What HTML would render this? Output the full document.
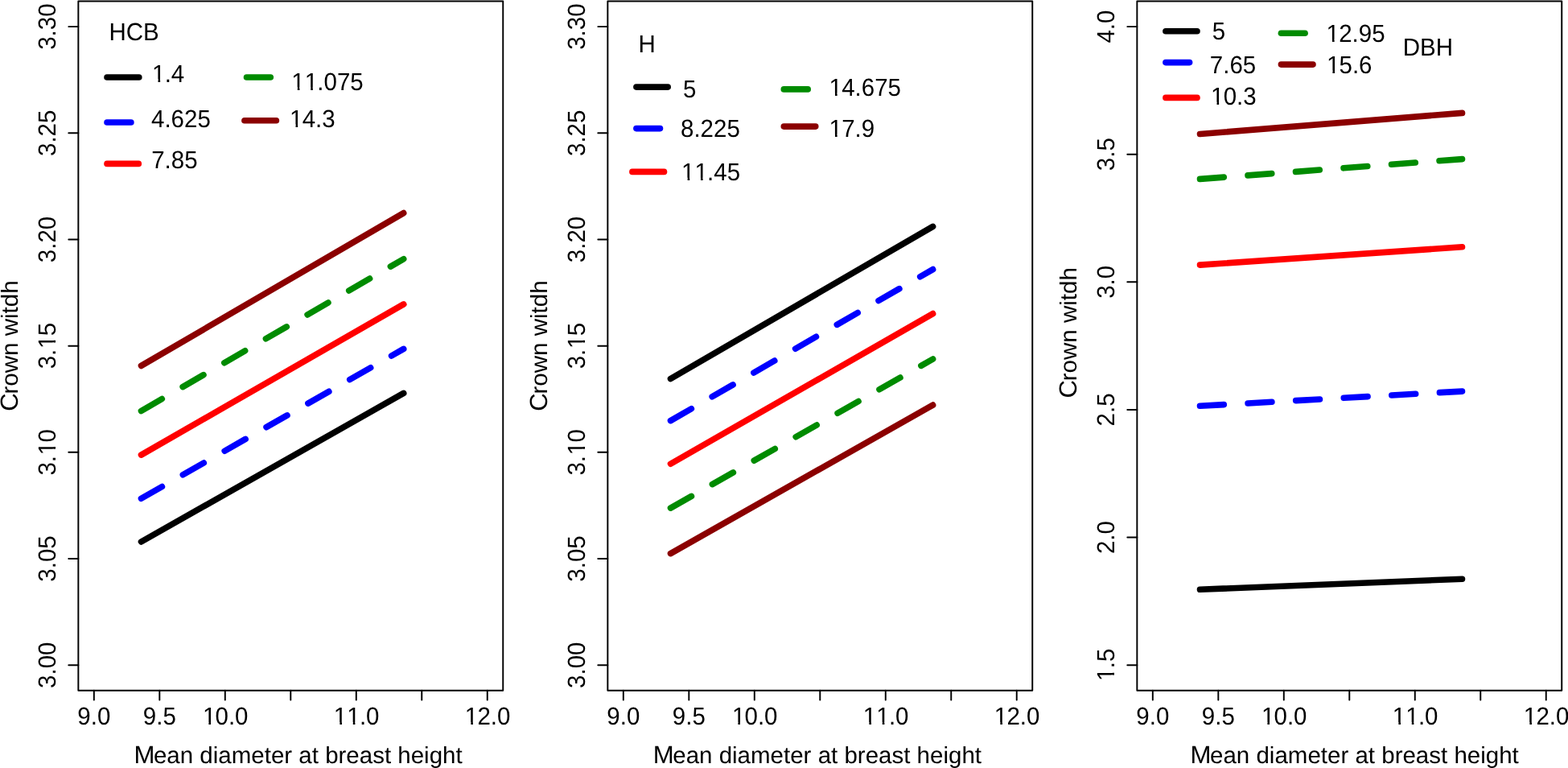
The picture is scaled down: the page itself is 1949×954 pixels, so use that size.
<!DOCTYPE html>
<html><head><meta charset="utf-8"><style>
html,body{margin:0;padding:0;background:#fff;overflow:hidden;}
svg{display:block;}
text{font-family:"Liberation Sans",Arial,Helvetica,sans-serif;font-size:29.5px;fill:#000;font-kerning:none;text-rendering:geometricPrecision;white-space:pre;}
</style></head><body>
<svg width="1949" height="954" viewBox="0 0 1949 954">
<defs><clipPath id="c0" clipPathUnits="userSpaceOnUse"><path clip-rule="evenodd" d="M-48.71,-60H48.71V20H-48.71Z M-26.46,-3.20H-20.41V4H-26.46Z M-17.78,-3.20H-12.14V4H-17.78Z"/></clipPath><clipPath id="c1" clipPathUnits="userSpaceOnUse"><path clip-rule="evenodd" d="M-48.71,-60H48.71V20H-48.71Z M-26.46,-3.20H-20.41V4H-26.46Z M-17.78,-3.20H-12.14V4H-17.78Z M-10.05,-3.20H-4.00V4H-10.05Z M-1.38,-3.20H4.26V4H-1.38Z"/></clipPath><clipPath id="c2" clipPathUnits="userSpaceOnUse"><path clip-rule="evenodd" d="M-48.71,-60H48.71V20H-48.71Z M-26.46,-3.20H-20.41V4H-26.46Z M-17.78,-3.20H-12.14V4H-17.78Z"/></clipPath><clipPath id="c3" clipPathUnits="userSpaceOnUse"><path clip-rule="evenodd" d="M-48.71,-60H48.71V20H-48.71Z M-1.86,-3.20H4.19V4H-1.86Z M6.82,-3.20H12.46V4H6.82Z"/></clipPath><clipPath id="c4" clipPathUnits="userSpaceOnUse"><path clip-rule="evenodd" d="M-48.71,-60H48.71V20H-48.71Z M-1.86,-3.20H4.19V4H-1.86Z M6.82,-3.20H12.46V4H6.82Z"/></clipPath><clipPath id="c5" clipPathUnits="userSpaceOnUse"><path clip-rule="evenodd" d="M-48.71,-60H48.71V20H-48.71Z M-26.46,-3.20H-20.41V4H-26.46Z M-17.78,-3.20H-12.14V4H-17.78Z"/></clipPath><clipPath id="c6" clipPathUnits="userSpaceOnUse"><path clip-rule="evenodd" d="M-48.71,-60H48.71V20H-48.71Z M-26.46,-3.20H-20.41V4H-26.46Z M-17.78,-3.20H-12.14V4H-17.78Z M-10.05,-3.20H-4.00V4H-10.05Z M-1.38,-3.20H4.26V4H-1.38Z"/></clipPath><clipPath id="c7" clipPathUnits="userSpaceOnUse"><path clip-rule="evenodd" d="M-48.71,-60H48.71V20H-48.71Z M-26.46,-3.20H-20.41V4H-26.46Z M-17.78,-3.20H-12.14V4H-17.78Z"/></clipPath><clipPath id="c8" clipPathUnits="userSpaceOnUse"><path clip-rule="evenodd" d="M-48.71,-60H48.71V20H-48.71Z M-1.86,-3.20H4.19V4H-1.86Z M6.82,-3.20H12.46V4H6.82Z"/></clipPath><clipPath id="c9" clipPathUnits="userSpaceOnUse"><path clip-rule="evenodd" d="M-48.71,-60H48.71V20H-48.71Z M-1.86,-3.20H4.19V4H-1.86Z M6.82,-3.20H12.46V4H6.82Z"/></clipPath><clipPath id="c10" clipPathUnits="userSpaceOnUse"><path clip-rule="evenodd" d="M-48.71,-60H48.71V20H-48.71Z M-26.46,-3.20H-20.41V4H-26.46Z M-17.78,-3.20H-12.14V4H-17.78Z"/></clipPath><clipPath id="c11" clipPathUnits="userSpaceOnUse"><path clip-rule="evenodd" d="M-48.71,-60H48.71V20H-48.71Z M-26.46,-3.20H-20.41V4H-26.46Z M-17.78,-3.20H-12.14V4H-17.78Z M-10.05,-3.20H-4.00V4H-10.05Z M-1.38,-3.20H4.26V4H-1.38Z"/></clipPath><clipPath id="c12" clipPathUnits="userSpaceOnUse"><path clip-rule="evenodd" d="M-48.71,-60H48.71V20H-48.71Z M-26.46,-3.20H-20.41V4H-26.46Z M-17.78,-3.20H-12.14V4H-17.78Z"/></clipPath><clipPath id="c13" clipPathUnits="userSpaceOnUse"><path clip-rule="evenodd" d="M-40.50,-60H40.50V20H-40.50Z M-18.26,-3.20H-12.21V4H-18.26Z M-9.58,-3.20H-3.94V4H-9.58Z"/></clipPath><clipPath id="c14" clipPathUnits="userSpaceOnUse"><path clip-rule="evenodd" d="M-20.00,-60H61.01V20H-20.00Z M2.25,-3.20H8.30V4H2.25Z M10.93,-3.20H16.57V4H10.93Z"/></clipPath><clipPath id="c15" clipPathUnits="userSpaceOnUse"><path clip-rule="evenodd" d="M-20.00,-60H110.23V20H-20.00Z M2.25,-3.20H8.30V4H2.25Z M10.93,-3.20H16.57V4H10.93Z M18.65,-3.20H24.70V4H18.65Z M27.33,-3.20H32.97V4H27.33Z"/></clipPath><clipPath id="c16" clipPathUnits="userSpaceOnUse"><path clip-rule="evenodd" d="M-20.00,-60H77.42V20H-20.00Z M2.25,-3.20H8.30V4H2.25Z M10.93,-3.20H16.57V4H10.93Z"/></clipPath><clipPath id="c17" clipPathUnits="userSpaceOnUse"><path clip-rule="evenodd" d="M-20.00,-60H93.82V20H-20.00Z M2.25,-3.20H8.30V4H2.25Z M10.93,-3.20H16.57V4H10.93Z M18.65,-3.20H24.70V4H18.65Z M27.33,-3.20H32.97V4H27.33Z"/></clipPath><clipPath id="c18" clipPathUnits="userSpaceOnUse"><path clip-rule="evenodd" d="M-20.00,-60H110.23V20H-20.00Z M2.25,-3.20H8.30V4H2.25Z M10.93,-3.20H16.57V4H10.93Z"/></clipPath><clipPath id="c19" clipPathUnits="userSpaceOnUse"><path clip-rule="evenodd" d="M-20.00,-60H77.42V20H-20.00Z M2.25,-3.20H8.30V4H2.25Z M10.93,-3.20H16.57V4H10.93Z"/></clipPath><clipPath id="c20" clipPathUnits="userSpaceOnUse"><path clip-rule="evenodd" d="M-20.00,-60H77.42V20H-20.00Z M2.25,-3.20H8.30V4H2.25Z M10.93,-3.20H16.57V4H10.93Z"/></clipPath><clipPath id="c21" clipPathUnits="userSpaceOnUse"><path clip-rule="evenodd" d="M-20.00,-60H93.82V20H-20.00Z M2.25,-3.20H8.30V4H2.25Z M10.93,-3.20H16.57V4H10.93Z"/></clipPath><clipPath id="c22" clipPathUnits="userSpaceOnUse"><path clip-rule="evenodd" d="M-20.00,-60H77.42V20H-20.00Z M2.25,-3.20H8.30V4H2.25Z M10.93,-3.20H16.57V4H10.93Z"/></clipPath></defs>
<rect width="1949" height="954" fill="#fff"/>
<rect x="97.35" y="1.45" width="527.90" height="856.35" fill="none" stroke="#000" stroke-width="1.95" stroke-linejoin="round"/>
<line x1="116.83" y1="857.80" x2="116.83" y2="869.60" stroke="#000" stroke-width="1.95" stroke-linecap="round"/>
<text transform="translate(116.83,900.40) scale(1,1.0412)" x="-20.50">9.0</text>
<line x1="198.32" y1="857.80" x2="198.32" y2="869.60" stroke="#000" stroke-width="1.95" stroke-linecap="round"/>
<text transform="translate(198.32,900.40) scale(1,1.0412)" x="-20.50">9.5</text>
<line x1="279.80" y1="857.80" x2="279.80" y2="869.60" stroke="#000" stroke-width="1.95" stroke-linecap="round"/>
<text transform="translate(279.80,900.40) scale(1,1.0412)" x="-27.91 -12.30 4.11 12.30" clip-path="url(#c0)">10.0</text>
<line x1="361.29" y1="857.80" x2="361.29" y2="869.60" stroke="#000" stroke-width="1.95" stroke-linecap="round"/>
<line x1="442.78" y1="857.80" x2="442.78" y2="869.60" stroke="#000" stroke-width="1.95" stroke-linecap="round"/>
<text transform="translate(442.78,900.40) scale(1,1.0412)" x="-27.91 -11.50 4.11 12.30" clip-path="url(#c1)">11.0</text>
<line x1="524.26" y1="857.80" x2="524.26" y2="869.60" stroke="#000" stroke-width="1.95" stroke-linecap="round"/>
<line x1="605.75" y1="857.80" x2="605.75" y2="869.60" stroke="#000" stroke-width="1.95" stroke-linecap="round"/>
<text transform="translate(605.75,900.40) scale(1,1.0412)" x="-27.91 -12.30 4.11 12.30" clip-path="url(#c2)">12.0</text>
<line x1="85.30" y1="826.20" x2="97.35" y2="826.20" stroke="#000" stroke-width="1.95" stroke-linecap="round"/>
<text transform="translate(68.85,826.20) rotate(-90) scale(1,1.0412)" x="-28.71">3.00</text>
<line x1="85.30" y1="694.02" x2="97.35" y2="694.02" stroke="#000" stroke-width="1.95" stroke-linecap="round"/>
<text transform="translate(68.85,694.02) rotate(-90) scale(1,1.0412)" x="-28.71">3.05</text>
<line x1="85.30" y1="561.83" x2="97.35" y2="561.83" stroke="#000" stroke-width="1.95" stroke-linecap="round"/>
<text transform="translate(68.85,561.83) rotate(-90) scale(1,1.0412)" x="-28.71 -12.30 -3.31 12.30" clip-path="url(#c3)">3.10</text>
<line x1="85.30" y1="429.65" x2="97.35" y2="429.65" stroke="#000" stroke-width="1.95" stroke-linecap="round"/>
<text transform="translate(68.85,429.65) rotate(-90) scale(1,1.0412)" x="-28.71 -12.30 -3.31 12.30" clip-path="url(#c4)">3.15</text>
<line x1="85.30" y1="297.47" x2="97.35" y2="297.47" stroke="#000" stroke-width="1.95" stroke-linecap="round"/>
<text transform="translate(68.85,297.47) rotate(-90) scale(1,1.0412)" x="-28.71">3.20</text>
<line x1="85.30" y1="165.28" x2="97.35" y2="165.28" stroke="#000" stroke-width="1.95" stroke-linecap="round"/>
<text transform="translate(68.85,165.28) rotate(-90) scale(1,1.0412)" x="-28.71">3.25</text>
<line x1="85.30" y1="33.10" x2="97.35" y2="33.10" stroke="#000" stroke-width="1.95" stroke-linecap="round"/>
<text transform="translate(68.85,33.10) rotate(-90) scale(1,1.0412)" x="-28.71">3.30</text>
<rect x="755.35" y="1.45" width="527.90" height="856.35" fill="none" stroke="#000" stroke-width="1.95" stroke-linejoin="round"/>
<line x1="774.83" y1="857.80" x2="774.83" y2="869.60" stroke="#000" stroke-width="1.95" stroke-linecap="round"/>
<text transform="translate(774.83,900.40) scale(1,1.0412)" x="-20.50">9.0</text>
<line x1="856.32" y1="857.80" x2="856.32" y2="869.60" stroke="#000" stroke-width="1.95" stroke-linecap="round"/>
<text transform="translate(856.32,900.40) scale(1,1.0412)" x="-20.50">9.5</text>
<line x1="937.80" y1="857.80" x2="937.80" y2="869.60" stroke="#000" stroke-width="1.95" stroke-linecap="round"/>
<text transform="translate(937.80,900.40) scale(1,1.0412)" x="-27.91 -12.30 4.11 12.30" clip-path="url(#c5)">10.0</text>
<line x1="1019.29" y1="857.80" x2="1019.29" y2="869.60" stroke="#000" stroke-width="1.95" stroke-linecap="round"/>
<line x1="1100.78" y1="857.80" x2="1100.78" y2="869.60" stroke="#000" stroke-width="1.95" stroke-linecap="round"/>
<text transform="translate(1100.78,900.40) scale(1,1.0412)" x="-27.91 -11.50 4.11 12.30" clip-path="url(#c6)">11.0</text>
<line x1="1182.26" y1="857.80" x2="1182.26" y2="869.60" stroke="#000" stroke-width="1.95" stroke-linecap="round"/>
<line x1="1263.75" y1="857.80" x2="1263.75" y2="869.60" stroke="#000" stroke-width="1.95" stroke-linecap="round"/>
<text transform="translate(1263.75,900.40) scale(1,1.0412)" x="-27.91 -12.30 4.11 12.30" clip-path="url(#c7)">12.0</text>
<line x1="743.30" y1="826.20" x2="755.35" y2="826.20" stroke="#000" stroke-width="1.95" stroke-linecap="round"/>
<text transform="translate(726.85,826.20) rotate(-90) scale(1,1.0412)" x="-28.71">3.00</text>
<line x1="743.30" y1="694.02" x2="755.35" y2="694.02" stroke="#000" stroke-width="1.95" stroke-linecap="round"/>
<text transform="translate(726.85,694.02) rotate(-90) scale(1,1.0412)" x="-28.71">3.05</text>
<line x1="743.30" y1="561.83" x2="755.35" y2="561.83" stroke="#000" stroke-width="1.95" stroke-linecap="round"/>
<text transform="translate(726.85,561.83) rotate(-90) scale(1,1.0412)" x="-28.71 -12.30 -3.31 12.30" clip-path="url(#c8)">3.10</text>
<line x1="743.30" y1="429.65" x2="755.35" y2="429.65" stroke="#000" stroke-width="1.95" stroke-linecap="round"/>
<text transform="translate(726.85,429.65) rotate(-90) scale(1,1.0412)" x="-28.71 -12.30 -3.31 12.30" clip-path="url(#c9)">3.15</text>
<line x1="743.30" y1="297.47" x2="755.35" y2="297.47" stroke="#000" stroke-width="1.95" stroke-linecap="round"/>
<text transform="translate(726.85,297.47) rotate(-90) scale(1,1.0412)" x="-28.71">3.20</text>
<line x1="743.30" y1="165.28" x2="755.35" y2="165.28" stroke="#000" stroke-width="1.95" stroke-linecap="round"/>
<text transform="translate(726.85,165.28) rotate(-90) scale(1,1.0412)" x="-28.71">3.25</text>
<line x1="743.30" y1="33.10" x2="755.35" y2="33.10" stroke="#000" stroke-width="1.95" stroke-linecap="round"/>
<text transform="translate(726.85,33.10) rotate(-90) scale(1,1.0412)" x="-28.71">3.30</text>
<rect x="1413.35" y="1.45" width="527.90" height="856.35" fill="none" stroke="#000" stroke-width="1.95" stroke-linejoin="round"/>
<line x1="1432.83" y1="857.80" x2="1432.83" y2="869.60" stroke="#000" stroke-width="1.95" stroke-linecap="round"/>
<text transform="translate(1432.83,900.40) scale(1,1.0412)" x="-20.50">9.0</text>
<line x1="1514.32" y1="857.80" x2="1514.32" y2="869.60" stroke="#000" stroke-width="1.95" stroke-linecap="round"/>
<text transform="translate(1514.32,900.40) scale(1,1.0412)" x="-20.50">9.5</text>
<line x1="1595.80" y1="857.80" x2="1595.80" y2="869.60" stroke="#000" stroke-width="1.95" stroke-linecap="round"/>
<text transform="translate(1595.80,900.40) scale(1,1.0412)" x="-27.91 -12.30 4.11 12.30" clip-path="url(#c10)">10.0</text>
<line x1="1677.29" y1="857.80" x2="1677.29" y2="869.60" stroke="#000" stroke-width="1.95" stroke-linecap="round"/>
<line x1="1758.78" y1="857.80" x2="1758.78" y2="869.60" stroke="#000" stroke-width="1.95" stroke-linecap="round"/>
<text transform="translate(1758.78,900.40) scale(1,1.0412)" x="-27.91 -11.50 4.11 12.30" clip-path="url(#c11)">11.0</text>
<line x1="1840.26" y1="857.80" x2="1840.26" y2="869.60" stroke="#000" stroke-width="1.95" stroke-linecap="round"/>
<line x1="1921.75" y1="857.80" x2="1921.75" y2="869.60" stroke="#000" stroke-width="1.95" stroke-linecap="round"/>
<text transform="translate(1921.75,900.40) scale(1,1.0412)" x="-27.91 -12.30 4.11 12.30" clip-path="url(#c12)">12.0</text>
<line x1="1401.30" y1="826.20" x2="1413.35" y2="826.20" stroke="#000" stroke-width="1.95" stroke-linecap="round"/>
<text transform="translate(1384.85,826.20) rotate(-90) scale(1,1.0412)" x="-19.70 -4.10 4.10" clip-path="url(#c13)">1.5</text>
<line x1="1401.30" y1="667.58" x2="1413.35" y2="667.58" stroke="#000" stroke-width="1.95" stroke-linecap="round"/>
<text transform="translate(1384.85,667.58) rotate(-90) scale(1,1.0412)" x="-20.50">2.0</text>
<line x1="1401.30" y1="508.96" x2="1413.35" y2="508.96" stroke="#000" stroke-width="1.95" stroke-linecap="round"/>
<text transform="translate(1384.85,508.96) rotate(-90) scale(1,1.0412)" x="-20.50">2.5</text>
<line x1="1401.30" y1="350.34" x2="1413.35" y2="350.34" stroke="#000" stroke-width="1.95" stroke-linecap="round"/>
<text transform="translate(1384.85,350.34) rotate(-90) scale(1,1.0412)" x="-20.50">3.0</text>
<line x1="1401.30" y1="191.72" x2="1413.35" y2="191.72" stroke="#000" stroke-width="1.95" stroke-linecap="round"/>
<text transform="translate(1384.85,191.72) rotate(-90) scale(1,1.0412)" x="-20.50">3.5</text>
<line x1="1401.30" y1="33.10" x2="1413.35" y2="33.10" stroke="#000" stroke-width="1.95" stroke-linecap="round"/>
<text transform="translate(1384.85,33.10) rotate(-90) scale(1,1.0412)" x="-20.50">4.0</text>
<text transform="translate(21.85,510.75) rotate(-90) scale(1,0.9850)"><tspan x="0.00" font-size="31.18px">C</tspan><tspan x="21.30">rown witdh</tspan></text>
<text transform="translate(679.85,510.75) rotate(-90) scale(1,0.9850)"><tspan x="0.00" font-size="31.18px">C</tspan><tspan x="21.30">rown witdh</tspan></text>
<text transform="translate(1337.85,494.50) rotate(-90) scale(1,0.9850)"><tspan x="0.00" font-size="31.18px">C</tspan><tspan x="21.30">rown witdh</tspan></text>
<text transform="translate(166.38,947.60) scale(1,0.9850)"><tspan x="0.00" font-size="31.18px">M</tspan><tspan x="24.57">ean diameter at breast height</tspan></text>
<text transform="translate(811.68,947.60) scale(1,0.9850)"><tspan x="0.00" font-size="31.18px">M</tspan><tspan x="24.57">ean diameter at breast height</tspan></text>
<text transform="translate(1479.48,947.60) scale(1,0.9850)"><tspan x="0.00" font-size="31.18px">M</tspan><tspan x="24.57">ean diameter at breast height</tspan></text>
<line x1="175.50" y1="454.40" x2="501.70" y2="264.60" stroke="#8B0000" stroke-width="7.6" stroke-linecap="round"/>
<line x1="175.50" y1="510.50" x2="501.70" y2="321.70" stroke="#008B00" stroke-width="7.6" stroke-linecap="round" stroke-dasharray="29.84 29.84"/>
<line x1="175.50" y1="565.10" x2="501.70" y2="377.90" stroke="#FF0000" stroke-width="7.6" stroke-linecap="round"/>
<line x1="175.50" y1="619.30" x2="501.70" y2="433.40" stroke="#0000FF" stroke-width="7.6" stroke-linecap="round" stroke-dasharray="29.84 29.84"/>
<line x1="175.50" y1="673.00" x2="501.70" y2="488.40" stroke="#000000" stroke-width="7.6" stroke-linecap="round"/>
<line x1="833.50" y1="470.50" x2="1159.60" y2="281.40" stroke="#000000" stroke-width="7.6" stroke-linecap="round"/>
<line x1="833.50" y1="522.60" x2="1159.60" y2="334.60" stroke="#0000FF" stroke-width="7.6" stroke-linecap="round" stroke-dasharray="29.84 29.84"/>
<line x1="833.50" y1="576.20" x2="1159.60" y2="389.60" stroke="#FF0000" stroke-width="7.6" stroke-linecap="round"/>
<line x1="833.50" y1="631.10" x2="1159.60" y2="446.00" stroke="#008B00" stroke-width="7.6" stroke-linecap="round" stroke-dasharray="29.84 29.84"/>
<line x1="833.50" y1="687.60" x2="1159.60" y2="503.10" stroke="#8B0000" stroke-width="7.6" stroke-linecap="round"/>
<line x1="1491.50" y1="166.50" x2="1817.50" y2="140.40" stroke="#8B0000" stroke-width="7.6" stroke-linecap="round"/>
<line x1="1491.50" y1="222.40" x2="1817.50" y2="197.60" stroke="#008B00" stroke-width="7.6" stroke-linecap="round" stroke-dasharray="29.84 29.84"/>
<line x1="1491.50" y1="329.10" x2="1817.50" y2="306.80" stroke="#FF0000" stroke-width="7.6" stroke-linecap="round"/>
<line x1="1491.50" y1="504.30" x2="1817.50" y2="486.10" stroke="#0000FF" stroke-width="7.6" stroke-linecap="round" stroke-dasharray="29.84 29.84"/>
<line x1="1491.50" y1="732.30" x2="1817.50" y2="719.20" stroke="#000000" stroke-width="7.6" stroke-linecap="round"/>
<line x1="133.00" y1="96.00" x2="172.80" y2="96.00" stroke="#000000" stroke-width="7.6" stroke-linecap="round"/>
<text transform="translate(188.22,101.50) scale(1,1.0412)" x="0.80 16.41 24.60" clip-path="url(#c14)">1.4</text>
<line x1="133.00" y1="152.00" x2="162.90" y2="152.00" stroke="#0000FF" stroke-width="7.6" stroke-linecap="round"/>
<text transform="translate(188.02,157.70) scale(1,1.0412)" x="0.00">4.625</text>
<line x1="133.00" y1="203.40" x2="172.30" y2="203.40" stroke="#FF0000" stroke-width="7.6" stroke-linecap="round"/>
<text transform="translate(188.19,209.00) scale(1,1.0412)" x="0.00">7.85</text>
<line x1="306.50" y1="95.95" x2="336.30" y2="95.95" stroke="#008B00" stroke-width="7.6" stroke-linecap="round"/>
<text transform="translate(361.52,111.60) scale(1,1.0412)" x="0.80 17.21 32.81 41.01 57.42 73.82" clip-path="url(#c15)">11.075</text>
<line x1="303.90" y1="149.75" x2="343.40" y2="149.75" stroke="#8B0000" stroke-width="7.6" stroke-linecap="round"/>
<text transform="translate(359.22,157.90) scale(1,1.0412)" x="0.80 16.41 32.81 41.01" clip-path="url(#c16)">14.3</text>
<line x1="790.90" y1="108.10" x2="830.20" y2="108.10" stroke="#000000" stroke-width="7.6" stroke-linecap="round"/>
<text transform="translate(849.12,121.30) scale(1,1.0412)" x="0.00">5</text>
<line x1="790.90" y1="159.60" x2="820.50" y2="159.60" stroke="#0000FF" stroke-width="7.6" stroke-linecap="round"/>
<text transform="translate(846.02,170.30) scale(1,1.0412)" x="0.00">8.225</text>
<line x1="785.90" y1="213.40" x2="825.50" y2="213.40" stroke="#FF0000" stroke-width="7.6" stroke-linecap="round"/>
<text transform="translate(846.32,224.10) scale(1,1.0412)" x="0.80 17.21 32.81 41.01 57.42" clip-path="url(#c17)">11.45</text>
<line x1="974.30" y1="110.90" x2="1004.20" y2="110.90" stroke="#008B00" stroke-width="7.6" stroke-linecap="round"/>
<text transform="translate(1029.72,118.90) scale(1,1.0412)" x="0.80 16.41 32.81 41.01 57.42 73.82" clip-path="url(#c18)">14.675</text>
<line x1="974.30" y1="157.10" x2="1013.80" y2="157.10" stroke="#8B0000" stroke-width="7.6" stroke-linecap="round"/>
<text transform="translate(1029.72,170.20) scale(1,1.0412)" x="0.80 16.41 32.81 41.01" clip-path="url(#c19)">17.9</text>
<line x1="1448.90" y1="38.80" x2="1488.00" y2="38.80" stroke="#000000" stroke-width="7.6" stroke-linecap="round"/>
<text transform="translate(1506.82,49.40) scale(1,1.0412)" x="0.00">5</text>
<line x1="1448.90" y1="77.60" x2="1478.60" y2="77.60" stroke="#0000FF" stroke-width="7.6" stroke-linecap="round"/>
<text transform="translate(1503.79,90.80) scale(1,1.0412)" x="0.00">7.65</text>
<line x1="1448.90" y1="121.40" x2="1488.00" y2="121.40" stroke="#FF0000" stroke-width="7.6" stroke-linecap="round"/>
<text transform="translate(1504.22,130.00) scale(1,1.0412)" x="0.80 16.41 32.81 41.01" clip-path="url(#c20)">10.3</text>
<line x1="1592.40" y1="41.20" x2="1622.10" y2="41.20" stroke="#008B00" stroke-width="7.6" stroke-linecap="round"/>
<text transform="translate(1647.72,52.00) scale(1,1.0412)" x="0.80 16.41 32.81 41.01 57.42" clip-path="url(#c21)">12.95</text>
<line x1="1592.40" y1="80.10" x2="1632.00" y2="80.10" stroke="#8B0000" stroke-width="7.6" stroke-linecap="round"/>
<text transform="translate(1648.12,90.90) scale(1,1.0412)" x="0.80 16.41 32.81 41.01" clip-path="url(#c22)">15.6</text>
<text transform="translate(135.38,50.30) scale(1,1.0412)" x="0.00">HCB</text>
<text transform="translate(793.58,65.00) scale(1,1.0412)" x="0.00">H</text>
<text transform="translate(1743.78,69.20) scale(1,1.0412)" x="0.00">DBH</text>
</svg>
</body></html>
